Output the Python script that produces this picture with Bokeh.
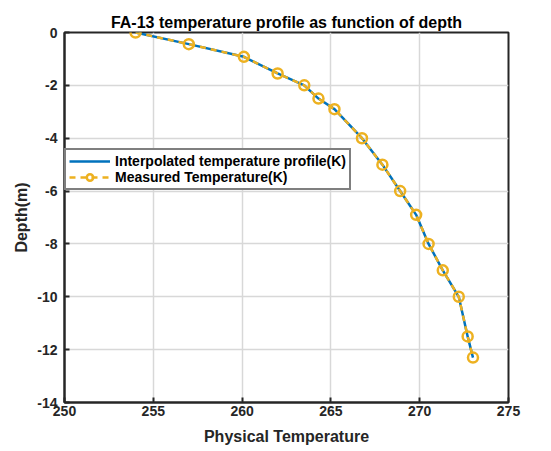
from bokeh.plotting import figure
from bokeh.models import Range1d, FixedTicker, Legend, LegendItem
from bokeh.embed import file_html
from bokeh.resources import INLINE

temperature = [254.0, 257.0, 260.1, 262.0, 263.5, 264.3, 265.2, 266.75, 267.9,
               268.9, 269.8, 270.5, 271.3, 272.2, 272.7, 273.0]
depth = [0.0, -0.44, -0.92, -1.55, -2.0, -2.5, -2.9, -4.0, -5.0,
         -6.0, -6.9, -8.0, -9.0, -10.0, -11.5, -12.3]
x_ticks = [250, 255, 260, 265, 270, 275]
y_ticks = [-14, -12, -10, -8, -6, -4, -2, 0]
y_tick_labels = ["-14", "-12", "-10", "-8", "-6", "-4", "-2", "0"]

FONT = "Liberation Sans"
BLUE = "#0072BD"
YELLOW = "#EDB120"
DARK = "#262626"

p = figure(width=551, height=451, output_backend="svg", toolbar_location=None,
           x_range=Range1d(250, 275), y_range=Range1d(-14, 0),
           min_border_left=64, min_border_right=43, min_border_top=32, min_border_bottom=49)

p.title.text = "FA-13 temperature profile as function of depth"
p.title.align = "center"
p.title.text_font = FONT
p.title.text_font_size = "16px"
p.title.text_font_style = "bold"
p.title.text_color = "#000000"
p.title.standoff = 4

for ax, ticks in ((p.xaxis[0], x_ticks), (p.yaxis[0], y_ticks)):
    ax.ticker = FixedTicker(ticks=ticks)
    ax.axis_line_width = 2
    ax.axis_line_color = DARK
    ax.major_tick_line_color = DARK
    ax.major_tick_line_width = 2
    ax.major_tick_in = 5
    ax.major_tick_out = 0
    ax.minor_tick_line_color = None
    ax.major_label_text_font = FONT
    ax.major_label_text_font_size = "14px"
    ax.major_label_text_font_style = "bold"
    ax.major_label_text_color = DARK
    ax.axis_label_text_font = FONT
    ax.axis_label_text_font_size = "16px"
    ax.axis_label_text_font_style = "bold"
    ax.axis_label_text_color = DARK

p.yaxis.major_label_overrides = {t: s for t, s in zip(y_ticks, y_tick_labels)}
p.xaxis.axis_label = "Physical Temperature"
p.yaxis.axis_label = "Depth(m)"
p.xaxis.major_label_standoff = 3
p.xaxis.axis_label_standoff = 9
p.yaxis.major_label_standoff = 7
p.yaxis.axis_label_standoff = 4

p.xgrid.ticker = FixedTicker(ticks=x_ticks)
p.ygrid.ticker = FixedTicker(ticks=y_ticks)
p.grid.grid_line_color = "#d8d8d8"
p.grid.grid_line_width = 1.5
p.outline_line_color = DARK
p.outline_line_width = 2

r_interp = p.line(temperature, depth, line_color=BLUE, line_width=2.5)
r_meas_line = p.line(temperature, depth, line_color=YELLOW, line_width=2.5, line_dash="6 5")
r_meas_pts = p.scatter(temperature, depth, marker="circle", size=10, fill_color=None,
                       line_color=YELLOW, line_width=2.5)

legend = Legend(items=[
    LegendItem(label="Interpolated temperature profile(K)", renderers=[r_interp]),
    LegendItem(label="Measured Temperature(K)", renderers=[r_meas_line, r_meas_pts]),
], location=(0, 212))
legend.label_text_font = FONT
legend.label_text_font_size = "14px"
legend.label_text_font_style = "bold"
legend.label_text_color = "#000000"
legend.border_line_color = "#000000"
legend.border_line_width = 2
legend.background_fill_alpha = 1
legend.padding = 3
legend.spacing = 0
legend.margin = 0
legend.glyph_width = 41
legend.glyph_height = 16
legend.label_height = 16
legend.label_standoff = 5
p.add_layout(legend, "center")

open("out.html", "w").write(file_html(p, INLINE))
